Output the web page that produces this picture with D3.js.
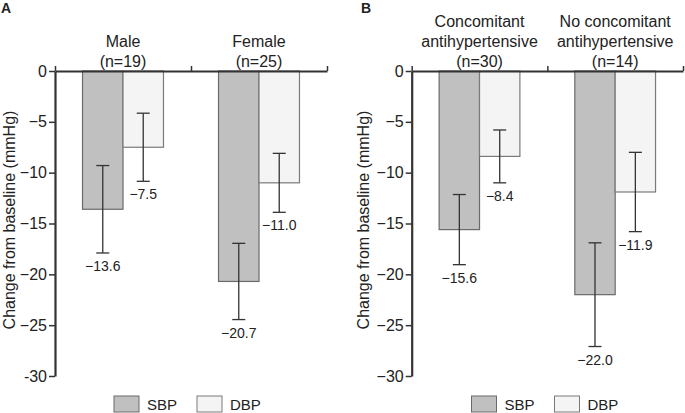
<!DOCTYPE html>
<html>
<head>
<meta charset="utf-8">
<script src="https://cdn.jsdelivr.net/npm/d3@7"></script>
<style>
  html, body { margin: 0; padding: 0; background: #fff; }
  svg { display: block; }
  text { font-family: "Liberation Sans", Arial, Helvetica, sans-serif; fill: #222; }
</style>
</head>
<body>
<svg id="chart" width="685" height="413"></svg>
<script>
// ---------------- Data ----------------
const series = ["SBP", "DBP"];

const groupsA = [["Male", "(n=19)"], ["Female", "(n=25)"]];
const sbpA = [-13.6, -20.7];
const dbpA = [-7.5, -11.0];
const sbpErrA = [4.3, 3.75];
const dbpErrA = [3.35, 2.9];
const tickValuesA = [0, -5, -10, -15, -20, -25, -30];
const tickLabelsA = ["0", "−5", "−10", "−15", "−20", "−25", "-30"];

const groupsB = [["Concomitant", "antihypertensive", "(n=30)"], ["No concomitant", "antihypertensive", "(n=14)"]];
const sbpB = [-15.6, -22.0];
const dbpB = [-8.4, -11.9];
const sbpErrB = [3.45, 5.1];
const dbpErrB = [2.6, 3.9];
const tickValuesB = [0, -5, -10, -15, -20, -25, -30];
const tickLabelsB = ["0", "−5", "−10", "−15", "−20", "−25", "−30"];

const yLabel = "Change from baseline (mmHg)";
const fmt = v => (v < 0 ? "−" : "") + Math.abs(v).toFixed(1);

// ---------------- Style ----------------
const fills = { SBP: "#c0c0c0", DBP: "#f4f4f4" };
const strokes = { SBP: "#6a6a6a", DBP: "#7a7a7a" };
const axisColor = "#333";

const svg = d3.select("#chart");

function panel(opts) {
  const { x0, x1, letter, letterX, groups, sbp, dbp, sbpErr, dbpErr, tickValues, tickLabels, yLabelX } = opts;
  const yTop = 71, yBot = 376;
  const y = d3.scaleLinear().domain([0, -30]).range([yTop, yBot]);
  const idx = d3.range(groups.length);
  const xg = d3.scaleBand().domain(idx).range([x0, x1]).paddingInner(0).paddingOuter(0);
  const xs = d3.scaleBand().domain(series).range([0, xg.bandwidth()]).paddingInner(0).paddingOuter(0.68);

  const g = svg.append("g");

  // panel letter
  g.append("text").attr("x", letterX).attr("y", 13)
    .style("font-weight", "bold").style("font-size", "14px").text(letter);

  // bars
  const rows = [];
  idx.forEach(i => {
    rows.push({ i, s: "SBP", v: sbp[i], e: sbpErr[i] });
    rows.push({ i, s: "DBP", v: dbp[i], e: dbpErr[i] });
  });
  g.selectAll("rect.bar").data(rows).enter().append("rect")
    .attr("class", "bar")
    .attr("x", d => xg(d.i) + xs(d.s))
    .attr("y", y(0))
    .attr("width", xs.bandwidth())
    .attr("height", d => y(d.v) - y(0))
    .attr("fill", d => fills[d.s])
    .attr("stroke", d => strokes[d.s])
    .attr("stroke-width", 1.2);

  // error bars
  const cap = 6.5;
  const eb = g.selectAll("g.err").data(rows).enter().append("g").attr("class", "err")
    .attr("stroke", "#333").attr("stroke-width", 1.3);
  const cx = d => xg(d.i) + xs(d.s) + xs.bandwidth() / 2;
  eb.append("line").attr("x1", cx).attr("x2", cx)
    .attr("y1", d => y(d.v + d.e)).attr("y2", d => y(d.v - d.e));
  eb.append("line").attr("x1", d => cx(d) - cap).attr("x2", d => cx(d) + cap)
    .attr("y1", d => y(d.v + d.e)).attr("y2", d => y(d.v + d.e));
  eb.append("line").attr("x1", d => cx(d) - cap).attr("x2", d => cx(d) + cap)
    .attr("y1", d => y(d.v - d.e)).attr("y2", d => y(d.v - d.e));

  // value labels
  g.selectAll("text.val").data(rows).enter().append("text")
    .attr("class", "val")
    .attr("x", cx)
    .attr("y", d => y(d.v - d.e) + 18)
    .attr("text-anchor", "middle")
    .style("font-size", "14px")
    .text(d => fmt(d.v));

  // y axis
  const yAxis = d3.axisLeft(y).tickValues(tickValues)
    .tickFormat((d, i) => tickLabels[i]).tickSize(6).tickSizeOuter(0).tickPadding(2);
  const ya = g.append("g").attr("transform", `translate(${x0},0)`).call(yAxis);
  ya.select(".domain").attr("stroke", axisColor).attr("stroke-width", 2.2);
  ya.selectAll(".tick line").attr("stroke", axisColor).attr("stroke-width", 1.5);
  ya.selectAll(".tick text").style("font-size", "16px").attr("fill", "#222")
    .style("font-family", "'Liberation Sans', Arial, sans-serif");

  // top axis (group separators)
  const xl = d3.scaleLinear().domain([0, groups.length]).range([x0, x1]);
  const xAxis = d3.axisTop(xl).tickValues(d3.range(groups.length + 1))
    .tickFormat("").tickSize(5).tickSizeOuter(0);
  const xa = g.append("g").attr("transform", `translate(0,${yTop})`).call(xAxis);
  xa.select(".domain").attr("stroke", axisColor).attr("stroke-width", 2.2);
  xa.selectAll(".tick line").attr("stroke", axisColor).attr("stroke-width", 1.5);

  // category labels
  idx.forEach(i => {
    const lines = groups[i];
    const cxg = xg(i) + xg.bandwidth() / 2;
    lines.forEach((ln, k) => {
      g.append("text")
        .attr("x", cxg)
        .attr("y", 67 - (lines.length - 1 - k) * 20)
        .attr("text-anchor", "middle")
        .style("font-size", "16px")
        .text(ln);
    });
  });

  // y label
  g.append("text")
    .attr("transform", `translate(${yLabelX},220) rotate(-90)`)
    .attr("text-anchor", "middle")
    .style("font-size", "16px")
    .text(yLabel);

  // legend
  const leg = g.append("g");
  const legItems = [
    { s: "SBP", bx: opts.legX },
    { s: "DBP", bx: opts.legX + 83 }
  ];
  legItems.forEach(it => {
    leg.append("rect").attr("x", it.bx).attr("y", 396).attr("width", 25).attr("height", 16)
      .attr("fill", fills[it.s]).attr("stroke", strokes[it.s]).attr("stroke-width", 1);
    leg.append("text").attr("x", it.bx + 33).attr("y", 409.5)
      .style("font-size", "15px").text(it.s);
  });
}

panel({
  x0: 55, x1: 327, letter: "A", letterX: 1,
  groups: groupsA, sbp: sbpA, dbp: dbpA, sbpErr: sbpErrA, dbpErr: dbpErrA,
  tickValues: tickValuesA, tickLabels: tickLabelsA, yLabelX: 14.5, legX: 114
});
panel({
  x0: 411.7, x1: 683, letter: "B", letterX: 361,
  groups: groupsB, sbp: sbpB, dbp: dbpB, sbpErr: sbpErrB, dbpErr: dbpErrB,
  tickValues: tickValuesB, tickLabels: tickLabelsB, yLabelX: 368.5, legX: 471.5
});
</script>
</body>
</html>
